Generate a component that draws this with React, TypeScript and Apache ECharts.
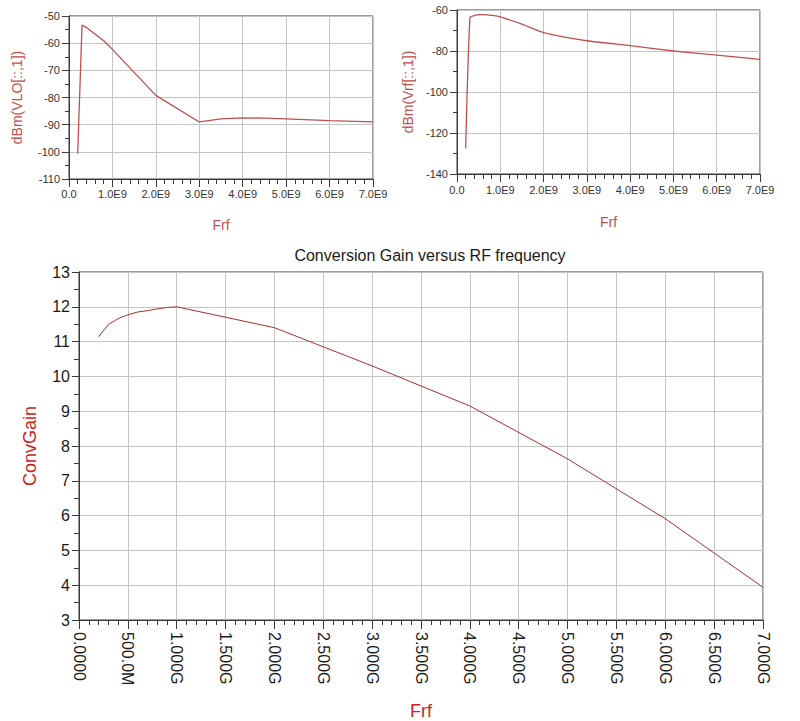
import React, { useEffect, useRef } from "react";
import * as echarts from "echarts";

// ---- Data (frequency in GHz) ----
const vloFreq = [0.2, 0.3, 0.4, 0.5, 0.6, 0.7, 0.8, 0.9, 1.0, 2.0, 3.0, 3.5, 4.0, 4.5, 5.0, 6.0, 7.0];
const vloDbm = [-100.7, -53.3, -54.2, -55.4, -56.6, -57.9, -59.1, -60.7, -62.3, -79.2, -89.0, -87.9, -87.5, -87.6, -87.9, -88.5, -89.0];

const vrfFreq = [0.2, 0.3, 0.4, 0.5, 0.6, 0.7, 0.8, 0.9, 1.0, 1.5, 2.0, 3.0, 4.0, 5.0, 6.0, 7.0];
const vrfDbm = [-127.5, -63.6, -62.8, -62.3, -62.3, -62.4, -62.6, -62.9, -63.4, -66.9, -71.0, -75.0, -77.4, -80.0, -82.0, -84.1];

const gainFreq = [0.2, 0.3, 0.4, 0.5, 0.6, 0.7, 0.8, 0.9, 1.0, 2.0, 3.0, 4.0, 5.0, 6.0, 7.0];
const convGain = [11.14, 11.49, 11.66, 11.77, 11.85, 11.89, 11.94, 11.98, 12.0, 11.4, 10.3, 9.15, 7.63, 5.91, 3.94];

const topXTickLabels = ["0.0", "1.0E9", "2.0E9", "3.0E9", "4.0E9", "5.0E9", "6.0E9", "7.0E9"];
const mainXTickLabels = [
  "0.0000", "500.0M", "1.000G", "1.500G", "2.000G", "2.500G", "3.000G", "3.500G",
  "4.000G", "4.500G", "5.000G", "5.500G", "6.000G", "6.500G", "7.000G",
];

const FONT = "'Liberation Sans', Arial, sans-serif";
const AXIS_COLOR = "#3a3a3a";
const GRID_COLOR = "#c4c4c4";

function zip(xs: number[], ys: number[]) {
  return xs.map((x, i) => [x, ys[i]]);
}

export default function App() {
  const ref = useRef<HTMLDivElement>(null);
  useEffect(() => {
    if (!ref.current) return;
    const chart = echarts.init(ref.current, undefined, { renderer: "svg" });

    const axisLine = { show: true, lineStyle: { color: AXIS_COLOR, width: 1 } };
    const splitLine = { show: true, lineStyle: { color: GRID_COLOR, width: 1 } };

    const topX = (gridIndex: number, margin: number, nameGap: number) => ({
      type: "value",
      gridIndex,
      min: 0,
      max: 7,
      interval: 1,
      axisLine,
      axisTick: { show: true, length: 8, lineStyle: { color: AXIS_COLOR } },
      minorTick: { show: true, splitNumber: 5, length: 5, lineStyle: { color: AXIS_COLOR } },
      splitLine,
      axisLabel: {
        fontFamily: FONT,
        fontSize: 11,
        color: "#333",
        margin,
        formatter: (v: number) => topXTickLabels[Math.round(v)] ?? "",
      },
      name: "Frf",
      nameLocation: "middle",
      nameGap,
      nameTextStyle: { fontFamily: FONT, fontSize: 14, color: "#c0504d" },
    });

    const topY = (gridIndex: number, min: number, max: number, interval: number, name: string, nameGap: number) => ({
      type: "value",
      gridIndex,
      min,
      max,
      interval,
      axisLine,
      axisTick: { show: true, length: 7, lineStyle: { color: AXIS_COLOR } },
      minorTick: { show: true, splitNumber: 2, length: 4, lineStyle: { color: AXIS_COLOR } },
      splitLine,
      axisLabel: { fontFamily: FONT, fontSize: 11, color: "#333", margin: 9 },
      name,
      nameLocation: "middle",
      nameGap,
      nameTextStyle: { fontFamily: FONT, fontSize: 14, color: "#c0504d" },
    });

    chart.setOption({
      animation: false,
      backgroundColor: "#ffffff",
      title: {
        text: "Conversion Gain versus RF frequency",
        left: 425,
        top: 242,
        textAlign: "center",
        textStyle: { fontFamily: FONT, fontSize: 16, fontWeight: "normal", color: "#1a1a1a" },
      },
      grid: [
        { left: 69, top: 16, width: 304, height: 163, show: true, borderColor: AXIS_COLOR, borderWidth: 1, backgroundColor: "transparent" },
        { left: 457, top: 10, width: 303, height: 164, show: true, borderColor: AXIS_COLOR, borderWidth: 1, backgroundColor: "transparent" },
        { left: 79, top: 272, width: 684, height: 356, show: true, borderColor: AXIS_COLOR, borderWidth: 1, backgroundColor: "transparent" },
      ],
      xAxis: [
        topX(0, 9, 39),
        topX(1, 10, 41),
        {
          type: "value",
          gridIndex: 2,
          min: 0,
          max: 7,
          interval: 0.5,
          axisLine,
          axisTick: { show: true, length: 9, lineStyle: { color: AXIS_COLOR } },
          minorTick: { show: true, splitNumber: 5, length: 5, lineStyle: { color: AXIS_COLOR } },
          splitLine,
          axisLabel: {
            fontFamily: FONT,
            fontSize: 16,
            color: "#1a1a1a",
            rotate: -90,
            margin: 12,
            formatter: (v: number) => mainXTickLabels[Math.round(v / 0.5)] ?? "",
          },
          name: "Frf",
          nameLocation: "middle",
          nameGap: 82,
          nameTextStyle: { fontFamily: FONT, fontSize: 18, color: "#cc2222" },
        },
      ],
      yAxis: [
        topY(0, -110, -50, 10, "dBm(VLO[::,1])", 45),
        topY(1, -140, -60, 20, "dBm(Vrf[::,1])", 42),
        {
          type: "value",
          gridIndex: 2,
          min: 3,
          max: 13,
          interval: 1,
          axisLine,
          axisTick: { show: true, length: 7, lineStyle: { color: AXIS_COLOR } },
          minorTick: { show: true, splitNumber: 2, length: 5, lineStyle: { color: AXIS_COLOR } },
          splitLine,
          axisLabel: { fontFamily: FONT, fontSize: 16, color: "#1a1a1a", margin: 9 },
          name: "ConvGain",
          nameLocation: "middle",
          nameGap: 40,
          nameTextStyle: { fontFamily: FONT, fontSize: 18, color: "#cc2222" },
        },
      ],
      series: [
        {
          type: "line",
          xAxisIndex: 0,
          yAxisIndex: 0,
          data: zip(vloFreq, vloDbm),
          showSymbol: false,
          lineStyle: { color: "#c05050", width: 1.3 },
        },
        {
          type: "line",
          xAxisIndex: 1,
          yAxisIndex: 1,
          data: zip(vrfFreq, vrfDbm),
          showSymbol: false,
          smooth: 0.2,
          lineStyle: { color: "#c05050", width: 1.3 },
        },
        {
          type: "line",
          xAxisIndex: 2,
          yAxisIndex: 2,
          data: zip(gainFreq, convGain),
          showSymbol: false,
          lineStyle: { color: "#a83030", width: 1 },
        },
      ],
    });
    return () => chart.dispose();
  }, []);

  return (
    <div
      ref={ref}
      style={{ position: "absolute", left: 0, top: 0, width: 800, height: 721 }}
    />
  );
}
